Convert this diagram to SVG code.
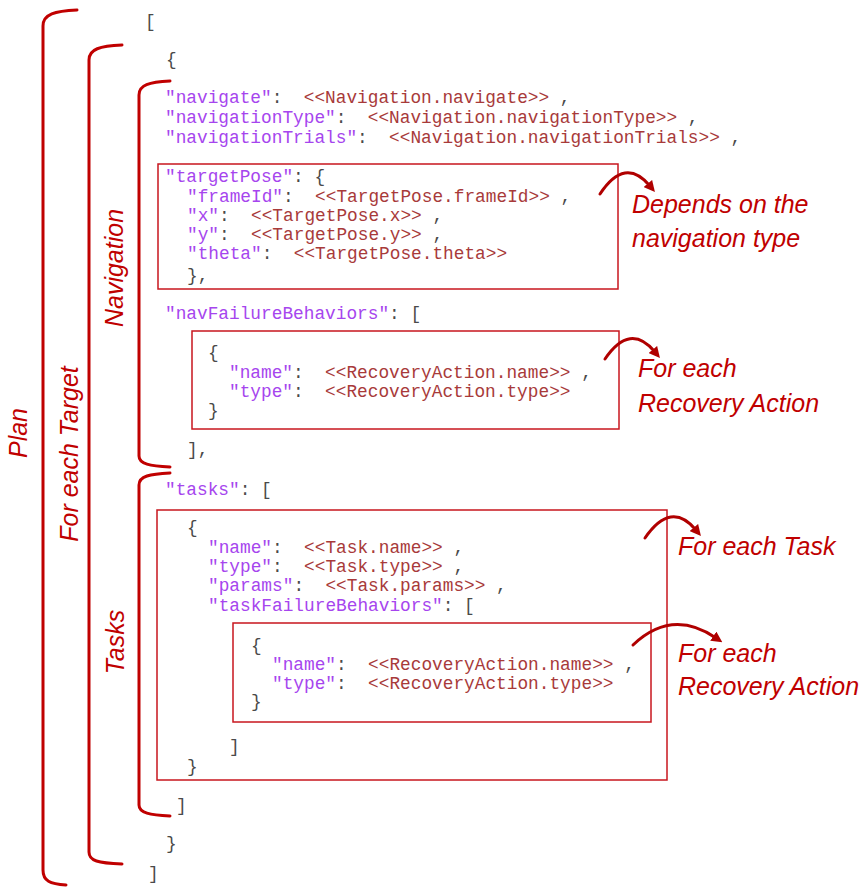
<svg xmlns="http://www.w3.org/2000/svg" width="861" height="887" viewBox="0 0 861 887">
<defs>
<style>
.code{font-family:"Liberation Mono","Courier New",monospace;font-size:17.8px;fill:#4a4a4a;white-space:pre}
.k{fill:#A645EE}
.v{fill:#A83A3A}
.lbl{font-family:"Liberation Sans",Arial,sans-serif;font-style:italic;font-size:25px;fill:#C00000}
.box{fill:none;stroke:#C8161E;stroke-width:1.5}
.brace{fill:none;stroke:#C00000;stroke-width:3;stroke-linecap:round}
.arc{fill:none;stroke:#B00000;stroke-width:3;stroke-linecap:round}
</style>
<marker id="ah" viewBox="0 0 10 10" refX="3" refY="5" markerWidth="11" markerHeight="11" markerUnits="userSpaceOnUse" orient="auto">
<path d="M0,0 L10,5 L0,10 z" fill="#B00000"/>
</marker>
</defs>
<rect width="861" height="887" fill="#ffffff"/>

<g id="braces">
<path class="brace" d="M77 10 C55 11 43 14 43 26 L43 870 C43 881 50 884 66 885"/>
<path class="brace" d="M122 45 C100 46 89 49 89 60 L89 852 C89 861 98 863 122 864"/>
<path class="brace" d="M170 81 C149 82 139 85 139 95 L139 456 C139 464 150 466 170 467"/>
<path class="brace" d="M170 473 C150 474 139 476 139 485 L139 805 C139 813 150 815 170 816"/>
</g>

<g id="labels">
<text class="lbl" transform="translate(27,433) rotate(-90)" text-anchor="middle">Plan</text>
<text class="lbl" transform="translate(78,454) rotate(-90)" text-anchor="middle">For each Target</text>
<text class="lbl" transform="translate(123,268) rotate(-90)" text-anchor="middle">Navigation</text>
<text class="lbl" transform="translate(124,642) rotate(-90)" text-anchor="middle">Tasks</text>
</g>

<g id="plan-open"><text class="code" x="145" y="27">[</text></g>
<g id="target-open"><text class="code" x="166" y="65">{</text></g>

<g id="navigation">
<text class="code" x="165" y="103"><tspan class="k">"navigate"</tspan>:  <tspan class="v">&lt;&lt;Navigation.navigate&gt;&gt;</tspan> ,</text>
<text class="code" x="165" y="123"><tspan class="k">"navigationType"</tspan>:  <tspan class="v">&lt;&lt;Navigation.navigationType&gt;&gt;</tspan> ,</text>
<text class="code" x="165" y="143"><tspan class="k">"navigationTrials"</tspan>:  <tspan class="v">&lt;&lt;Navigation.navigationTrials&gt;&gt;</tspan> ,</text>
</g>

<g id="targetPose">
<rect class="box" x="158" y="164" width="460" height="125"/>
<text class="code" x="165" y="182"><tspan class="k">"targetPose"</tspan>: {</text>
<text class="code" x="187" y="202"><tspan class="k">"frameId"</tspan>:  <tspan class="v">&lt;&lt;TargetPose.frameId&gt;&gt;</tspan> ,</text>
<text class="code" x="187" y="221"><tspan class="k">"x"</tspan>:  <tspan class="v">&lt;&lt;TargetPose.x&gt;&gt;</tspan> ,</text>
<text class="code" x="187" y="240"><tspan class="k">"y"</tspan>:  <tspan class="v">&lt;&lt;TargetPose.y&gt;&gt;</tspan> ,</text>
<text class="code" x="187" y="259"><tspan class="k">"theta"</tspan>:  <tspan class="v">&lt;&lt;TargetPose.theta&gt;&gt;</tspan></text>
<text class="code" x="187" y="281">},</text>
</g>

<g id="note-depends">
<text class="lbl" x="632" y="213">Depends on the</text>
<text class="lbl" x="632" y="247">navigation type</text>
</g>

<g id="navFailureBehaviors">
<text class="code" x="165" y="319"><tspan class="k">"navFailureBehaviors"</tspan>: [</text>
<rect class="box" x="192" y="331" width="427" height="98"/>
<text class="code" x="208" y="358">{</text>
<text class="code" x="229" y="378"><tspan class="k">"name"</tspan>:  <tspan class="v">&lt;&lt;RecoveryAction.name&gt;&gt;</tspan> ,</text>
<text class="code" x="229" y="397"><tspan class="k">"type"</tspan>:  <tspan class="v">&lt;&lt;RecoveryAction.type&gt;&gt;</tspan></text>
<text class="code" x="208" y="416">}</text>
<text class="code" x="187" y="455">],</text>
</g>

<g id="note-recovery-nav">
<text class="lbl" x="638" y="377">For each</text>
<text class="lbl" x="638" y="412">Recovery Action</text>
</g>

<g id="tasks">
<text class="code" x="165" y="495"><tspan class="k">"tasks"</tspan>: [</text>
<rect class="box" x="157" y="510" width="510" height="270"/>
<text class="code" x="187" y="533">{</text>
<text class="code" x="208" y="553"><tspan class="k">"name"</tspan>:  <tspan class="v">&lt;&lt;Task.name&gt;&gt;</tspan> ,</text>
<text class="code" x="208" y="572"><tspan class="k">"type"</tspan>:  <tspan class="v">&lt;&lt;Task.type&gt;&gt;</tspan> ,</text>
<text class="code" x="208" y="591"><tspan class="k">"params"</tspan>:  <tspan class="v">&lt;&lt;Task.params&gt;&gt;</tspan> ,</text>
<text class="code" x="208" y="611"><tspan class="k">"taskFailureBehaviors"</tspan>: [</text>
<text class="code" x="229" y="752">]</text>
<text class="code" x="187" y="772">}</text>
<text class="code" x="176" y="811">]</text>
</g>

<g id="taskFailureBehaviors">
<rect class="box" x="233" y="623" width="418" height="99"/>
<text class="code" x="251" y="651">{</text>
<text class="code" x="272" y="670"><tspan class="k">"name"</tspan>:  <tspan class="v">&lt;&lt;RecoveryAction.name&gt;&gt;</tspan> ,</text>
<text class="code" x="272" y="689"><tspan class="k">"type"</tspan>:  <tspan class="v">&lt;&lt;RecoveryAction.type&gt;&gt;</tspan></text>
<text class="code" x="251" y="707">}</text>
</g>

<g id="note-task">
<text class="lbl" x="678" y="555">For each Task</text>
</g>

<g id="note-recovery-task">
<text class="lbl" x="678" y="662">For each</text>
<text class="lbl" x="678" y="695">Recovery Action</text>
</g>

<g id="target-close"><text class="code" x="166" y="849">}</text></g>
<g id="plan-close"><text class="code" x="148" y="879">]</text></g>

<g id="connectors">
<path class="arc" d="M600 194 Q625 156 650 186" marker-end="url(#ah)"/>
<path class="arc" d="M605 359 Q630 322 655 352" marker-end="url(#ah)"/>
<path class="arc" d="M645 538 Q671 500 696 530" marker-end="url(#ah)"/>
<path class="arc" d="M633 645 Q672 608 716 638" marker-end="url(#ah)"/>
</g>
</svg>
